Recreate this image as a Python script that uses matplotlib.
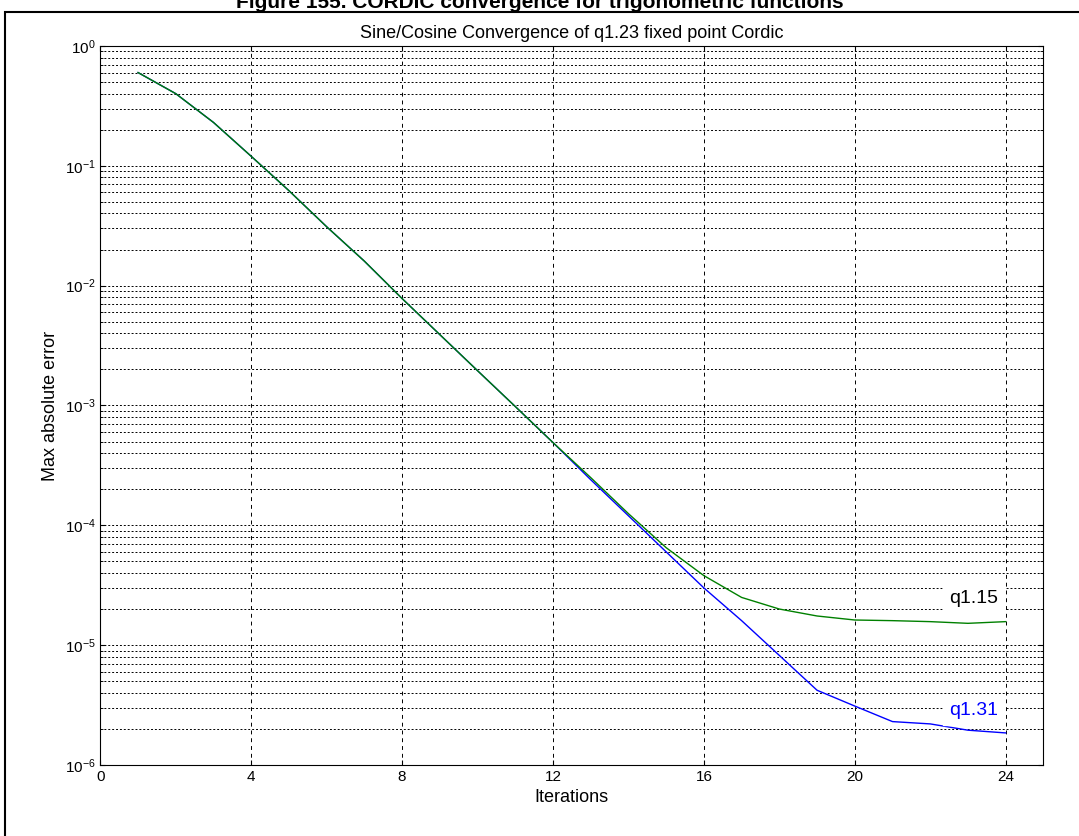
import matplotlib
matplotlib.use("Agg")
import matplotlib.pyplot as plt
from matplotlib.patches import Rectangle
from matplotlib.ticker import LogLocator, FixedLocator, NullFormatter

iterations = list(range(1, 25))
q115 = [0.6, 0.4, 0.23, 0.12, 0.062, 0.031, 0.016, 0.0078, 0.0039, 0.00195, 0.00098, 0.00049,
        0.00025, 0.000125, 6.5e-5, 3.8e-5, 2.5e-5, 2.0e-5, 1.75e-5, 1.62e-5, 1.6e-5, 1.57e-5, 1.52e-5, 1.57e-5]
q131 = [0.6, 0.4, 0.23, 0.12, 0.062, 0.031, 0.016, 0.0078, 0.0039, 0.00195, 0.00098, 0.00049,
        0.00024, 0.00012, 6.0e-5, 3.0e-5, 1.6e-5, 8.2e-6, 4.2e-6, 3.1e-6, 2.3e-6, 2.2e-6, 1.95e-6, 1.85e-6]
xticks = [0, 4, 8, 12, 16, 20, 24]

plt.rcParams['font.family'] = ['Liberation Sans', 'DejaVu Sans']
fig = plt.figure(figsize=(10.79, 8.36), dpi=100)
fig.patches.append(Rectangle((0.005, -0.1), 1.2, 1.086, transform=fig.transFigure,
                             fill=False, edgecolor='black', linewidth=1.5))
fig.text(0.5, 0.997, "Figure 155. CORDIC convergence for trigonometric functions", ha='center', va='center',
         fontsize=15, fontweight='bold')
ax = fig.add_axes([0.093, 0.085, 0.874, 0.86])
ax.plot(iterations, q131, color='blue', linewidth=1)
ax.plot(iterations, q115, color='green', linewidth=1)
ax.set_yscale('log')
ax.set_ylim(1e-6, 1)
ax.set_xlim(0, 25)
ax.xaxis.set_major_locator(FixedLocator(xticks))
ax.yaxis.set_major_locator(LogLocator(base=10, numticks=10))
ax.yaxis.set_minor_locator(LogLocator(base=10, subs=range(2, 10), numticks=100))
ax.yaxis.set_minor_formatter(NullFormatter())
ax.grid(True, which='major', axis='x', color='black', linestyle=(0, (4, 4)), linewidth=0.7)
ax.grid(True, which='both', axis='y', color='black', linestyle=(0, (2, 2)), linewidth=0.7)
ax.tick_params(which='both', direction='in', labelsize=11, top=True, right=True)
ax.set_xlabel("Iterations", fontsize=13)
ax.set_ylabel("Max absolute error", fontsize=13)
ax.set_title("Sine/Cosine Convergence of q1.23 fixed point Cordic", fontsize=13)
ax.text(22.5, 2.1e-5, "q1.15", fontsize=14, color='black', backgroundcolor='white', va='bottom')
ax.text(22.5, 2.4e-6, "q1.31", fontsize=14, color='blue', backgroundcolor='white', va='bottom')
fig.savefig("out.png", dpi=100)
